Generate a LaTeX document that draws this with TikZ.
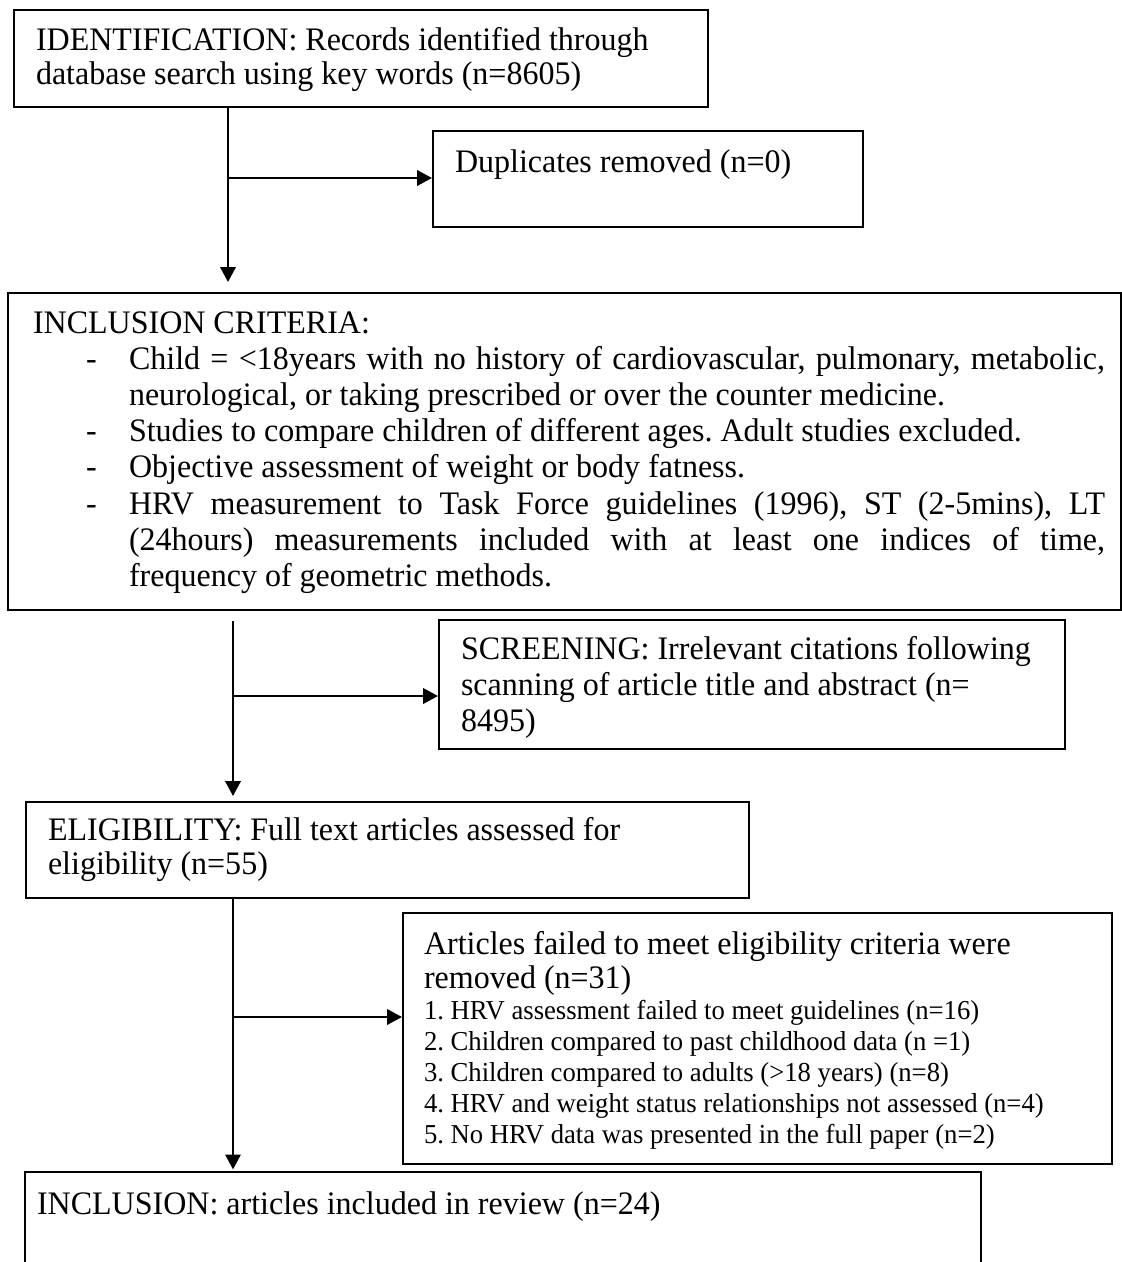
\documentclass[tikz,border=0pt]{standalone}
\usepackage{fontspec}
\setmainfont[FakeStretch=0.975]{Liberation Serif}
\usetikzlibrary{arrows.meta}
\newdimen\px \px=0.3655pt
% #1 width, #2 height, #3 left pad, #4 first baseline offset, #5 baselineskip, #6 text
\newcommand{\bxt}[6]{\parbox[b][#2\px][t]{#1\px}{\raggedright\leftskip=#3\px\relax
  \fontsize{12pt}{#5\px}\selectfont\frenchspacing\rule{0pt}{#4\px}#6}}
\newcommand{\dashitem}{\hspace*{-43\px}\makebox[43\px][l]{-}}
\begin{document}
\begin{tikzpicture}[x=0.3655pt,y=-0.3655pt,
  box/.style={draw, line width=0.75pt, inner sep=0pt, anchor=north west},
  conn/.style={line width=0.75pt, -{Triangle[length=5.4pt,width=5.6pt]}}]
\useasboundingbox (0,0) rectangle (1122,1262);
\clip (0,0) rectangle (1122,1262);

% boxes
\node[box] (ident) at (13,9) {\bxt{694}{97}{22}{40}{34}{IDENTIFICATION: Records identified through\\
database search using key words (n=8605)}};

\node[box] (dup) at (432,130) {\bxt{430}{96}{22}{41}{34}{Duplicates removed (n=0)}};

\node[box] (incl) at (7,292) {\parbox[b][317\px][t]{1113\px}{%
  \fontsize{12pt}{36.2\px}\selectfont\frenchspacing
  \hyphenpenalty=10000 \exhyphenpenalty=10000
  \leftskip=25\px \rightskip=16\px
  \rule{0pt}{40\px}INCLUSION CRITERIA:\par
  \leftskip=121\px
  \dashitem Child = <18years with no history of cardiovascular, pulmonary, metabolic,\linebreak
  neurological, or taking prescribed or over the counter medicine.\par
  \dashitem Studies to compare children of different ages. Adult studies excluded.\par
  \dashitem Objective assessment of weight or body fatness.\par
  \dashitem HRV measurement to Task Force guidelines (1996), ST (2-5mins), LT\linebreak
  (24hours) measurements included with at least one indices of time,\linebreak
  frequency of geometric methods.\par}};

\node[box] (screen) at (438,619) {\bxt{626}{129}{22}{39}{36}{SCREENING: Irrelevant citations following\\
scanning of article title and abstract (n=\\
8495)}};

\node[box] (elig) at (25,801) {\bxt{723}{96}{22}{38}{34}{ELIGIBILITY: Full text articles assessed for\\
eligibility (n=55)}};

\node[box] (fail) at (402,912) {\bxt{709}{251}{21}{41}{34}{Articles failed to meet eligibility criteria were\\
removed (n=31)\par
\fontsize{10pt}{31\px}\selectfont
1. HRV assessment failed to meet guidelines (n=16)\\
2. Children compared to past childhood data (n =1)\\
3. Children compared to adults (>18 years) (n=8)\\
4. HRV and weight status relationships not assessed (n=4)\\
5. No HRV data was presented in the full paper (n=2)}};

\node[box] (final) at (24,1171) {\bxt{956}{130}{12}{42}{34}{INCLUSION: articles included in review (n=24)}};

% junction points
\coordinate (j1) at (228,178);
\coordinate (j2) at (233,696);
\coordinate (j3) at (233,1017);

% connectors
\draw[conn, shorten >=3.66pt] (ident.south -| j1) -- (incl.north -| j1);
\draw[conn] (j1) -- (j1 -| dup.west);

\draw[conn, shorten <=3.66pt, shorten >=1.83pt] (incl.south -| j2) -- (elig.north -| j2);
\draw[conn] (j2) -- (j2 -| screen.west);

\draw[conn, shorten >=0.6pt] (elig.south -| j3) -- (final.north -| j3);
\draw[conn] (j3) -- (j3 -| fail.west);
\end{tikzpicture}
\end{document}
